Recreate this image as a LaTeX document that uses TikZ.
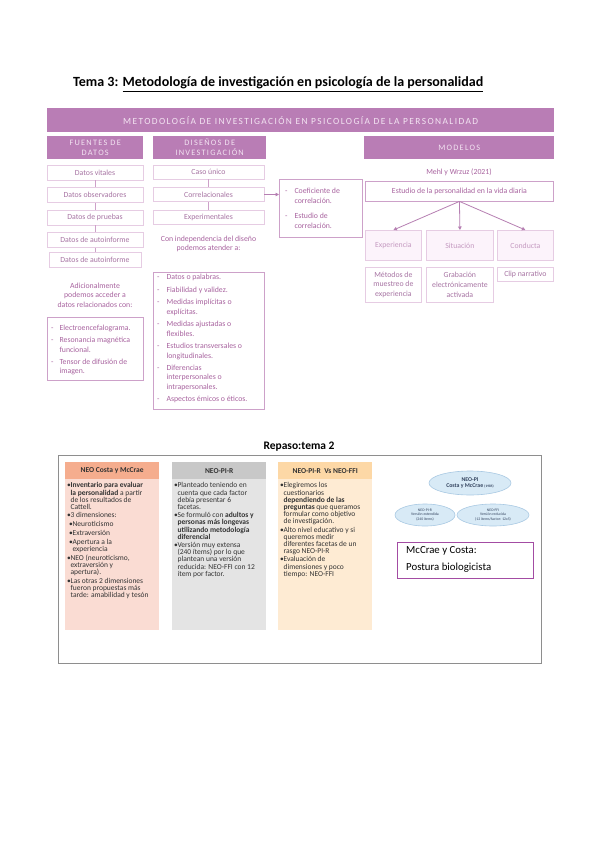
\documentclass[tikz,border=0pt]{standalone}
\usepackage{fontspec}
\usepackage{graphicx}
\setmainfont{Carlito}
\usetikzlibrary{arrows.meta,calc,shapes.geometric}
\definecolor{hdrc}{HTML}{B97DB5}
\definecolor{hdrtxt}{HTML}{F3E4F2}
\definecolor{lbord}{HTML}{E6CCE3}
\definecolor{mbord}{HTML}{CDA1C9}
\definecolor{dtxt}{HTML}{A774A3}
\definecolor{ptxt}{HTML}{A8639F}
\definecolor{ltxt}{HTML}{C59AC1}
\definecolor{pfill}{HTML}{FCF3FB}
\definecolor{pline}{HTML}{B67FB2}
\definecolor{framegray}{HTML}{8E8E8E}
\definecolor{salmonh}{HTML}{F5AD8E}
\definecolor{pinkb}{HTML}{FADCD3}
\definecolor{grayh}{HTML}{C8C8C8}
\definecolor{grayb}{HTML}{E4E4E4}
\definecolor{orah}{HTML}{FDD8A6}
\definecolor{orab}{HTML}{FEEBD3}
\definecolor{ellf}{HTML}{D8EAF6}
\definecolor{elld}{HTML}{A9C9E3}
\definecolor{elltxt}{HTML}{34445F}
\definecolor{magb}{HTML}{A34CA3}
\definecolor{coltxt}{HTML}{333333}
\newcommand\myhdrfont{\fontsize{8.3}{10}\selectfont\addfontfeature{LetterSpace=15}}
\newcommand\myboxfont{\fontsize{7.8}{9.6}\selectfont}
\newcommand\mybul{\makebox[3.4pt][l]{\textbullet}}
\newcommand\myind{\hspace*{3.4pt}}
\tikzset{
  hdr/.style={fill=hdrc, draw=none, text=hdrtxt, font=\myhdrfont, align=center, inner sep=0pt},
  sbox/.style={draw=lbord, line width=0.8pt, text=dtxt, font=\myboxfont, align=center, inner sep=0pt},
  lbox/.style={draw=mbord, line width=0.9pt, text=ptxt, font=\myboxfont, align=center, inner sep=0pt},
  fbox/.style={draw=lbord, fill=pfill, line width=0.8pt, text=ltxt, font=\myboxfont, align=center, inner sep=0pt},
  ptext/.style={text=ptxt, font=\myboxfont, align=center, inner sep=0pt},
  pconn/.style={draw=mbord, line width=0.8pt},
  parrow/.style={draw=pline, line width=0.8pt, -{Triangle[length=3.5pt,width=3.5pt]}},
  colhead/.style={draw=none, font=\bfseries\fontsize{7.5}{8}\selectfont, text=coltxt, inner sep=0pt},
  colbody/.style={draw=none, inner sep=0pt},
  coltext/.style={font=\fontsize{7.5}{7.1}\selectfont, text=coltxt, align=left, inner sep=0pt},
  ell/.style={ellipse, fill=ellf, draw=elld, line width=0.6pt, inner sep=0pt, align=center, text=elltxt},
}
\begin{document}
\begin{tikzpicture}[x=1pt,y=-1pt]
\useasboundingbox[fill=white] (0,0) rectangle (599,848);

% title
\node[anchor=base west, inner sep=0pt] (title) at (73,87) {\resizebox{410pt}{!}{\bfseries Tema 3: \underline{Metodología de investigación en psicología de la personalidad}}};

% header bars
\node[hdr, minimum width=507pt, minimum height=24pt, anchor=north west] (bar) at (47,108) {\resizebox{355pt}{!}{METODOLOGÍA DE INVESTIGACIÓN EN PSICOLOGÍA DE LA PERSONALIDAD}};
\node[hdr, minimum width=96pt, minimum height=23pt, anchor=north west] (fuentes) at (47,136) {FUENTES DE\\DATOS};
\node[hdr, minimum width=113pt, minimum height=23pt, anchor=north west] (disenos) at (153,136) {DISEÑOS DE\\INVESTIGACIÓN};
\node[hdr, minimum width=190pt, minimum height=23pt, anchor=north west] (modelos) at (364,136) {MODELOS};

% left column
\node[sbox, minimum width=96pt, minimum height=15pt] (dv) at (95,172.5) {Datos vitales};
\node[sbox, minimum width=96pt, minimum height=15pt] (dobs) at (95,195) {Datos observadores};
\node[sbox, minimum width=96pt, minimum height=15pt] (dpr) at (95,217.5) {Datos de pruebas};
\node[sbox, minimum width=96pt, minimum height=15pt] (dai) at (95,240) {Datos de autoinforme};
\node[sbox, minimum width=92pt, minimum height=15pt] (dai2) at (95,260) {Datos de autoinforme};
\draw[pconn] (dv) -- (dobs);
\draw[pconn] (dobs) -- (dpr);
\draw[pconn] (dpr) -- (dai);
\draw[pconn] (dai) -- (dai2);
\node[ptext] (adic) at (95,295) {Adicionalmente\\podemos acceder a\\datos relacionados con:};
\node[lbox, minimum width=96pt, minimum height=63pt, anchor=north west] (eeg) at (47,317) {};
\node[ptext, anchor=north west] (eegl) at (51,323.5) {\begin{tabular}{@{}l@{\hspace{6pt}}l@{}}-&Electroencefalograma.\\[2.5pt]-&Resonancia magnética\\&funcional.\\[2.5pt]-&Tensor de difusión de\\&imagen.\end{tabular}};

% middle column
\node[sbox, minimum width=111pt, minimum height=14pt] (caso) at (208.5,172) {Caso único};
\node[sbox, minimum width=111pt, minimum height=14pt] (corr) at (208.5,194.5) {Correlacionales};
\node[sbox, minimum width=111pt, minimum height=14pt] (expm) at (208.5,217) {Experimentales};
\draw[pconn] (caso) -- (corr);
\draw[pconn] (corr) -- (expm);
\node[ptext] (indep) at (208.5,244) {Con independencia del diseño\\podemos atender a:};
\node[lbox, minimum width=111pt, minimum height=137pt, anchor=north west] (lst) at (153,272) {};
\node[ptext, anchor=north west, font=\fontsize{7.8}{9.3}\selectfont] (lstt) at (157,273) {\begin{tabular}{@{}l@{\hspace{7pt}}l@{}}-&Datos o palabras.\\[3.3pt]-&Fiabilidad y validez.\\[3.3pt]-&Medidas implícitas o\\&explícitas.\\[3.3pt]-&Medidas ajustadas o\\&flexibles.\\[3.3pt]-&Estudios transversales o\\&longitudinales.\\[3.3pt]-&Diferencias\\&interpersonales o\\&intrapersonales.\\[3.3pt]-&Aspectos émicos o éticos.\end{tabular}};

% coeficiente box
\node[lbox, minimum width=83pt, minimum height=58pt, anchor=north west] (coef) at (279,179) {};
\node[ptext, anchor=north west, font=\fontsize{7.8}{10}\selectfont] (coeft) at (285,186) {\begin{tabular}{@{}l@{\hspace{7pt}}l@{}}-&Coeficiente de\\&correlación.\\[5pt]-&Estudio de\\&correlación.\end{tabular}};
\draw[parrow] (corr.east) -- (corr.east -| coef.west);

% modelos
\node[ptext] (mehl) at (459,172) {Mehl y Wrzuz (2021)};
\node[lbox, minimum width=188pt, minimum height=20pt, anchor=north west] (estudio) at (365,180.5) {Estudio de la personalidad en la vida diaria};
\node[fbox, minimum width=56pt, minimum height=30pt, anchor=north west] (exper) at (365,230) {Experiencia};
\node[fbox, minimum width=67pt, minimum height=30pt, anchor=north west] (situ) at (426,230) {Situación};
\node[fbox, minimum width=56pt, minimum height=30pt, anchor=north west] (cond) at (497,230) {Conducta};
\draw[parrow] (estudio.south) -- (exper.north);
\draw[parrow] (estudio.south) -- (situ.north);
\draw[parrow] (estudio.south) -- (cond.north);
\node[sbox, minimum width=56pt, minimum height=35pt, anchor=north west] (metodos) at (365,267) {Métodos de\\muestreo de\\experiencia};
\node[sbox, minimum width=67pt, minimum height=35pt, anchor=north west] (grab) at (426,267) {Grabación\\electrónicamente\\activada};
\node[sbox, minimum width=56pt, minimum height=14pt, anchor=north west] (clip) at (497,267) {Clip narrativo};

% bottom section
\node[font=\bfseries\fontsize{11.5}{13}\selectfont, inner sep=0pt] (repaso) at (299,447) {Repaso:tema 2};
\node[draw=framegray, line width=1.2pt, minimum width=483pt, minimum height=208pt, anchor=north west, inner sep=0pt] (frame) at (58,455) {};

\node[colhead, fill=salmonh, minimum width=94pt, minimum height=17pt, anchor=north west] (h1) at (65,462) {NEO Costa y McCrae};
\node[colbody, fill=pinkb, minimum width=94pt, minimum height=151pt, anchor=north west] (b1) at (65,479) {};
\node[coltext, anchor=north west] (t1) at (67,482.5) {%
\mybul\textbf{Inventario para evaluar}\\
\myind\textbf{la personalidad} a partir\\
\myind de los resultados de\\
\myind Cattell.\\[1.5pt]
\mybul 3 dimensiones:\\[1.5pt]
\hspace*{2pt}\mybul Neuroticismo\\[2pt]
\hspace*{2pt}\mybul Extraversión\\[2pt]
\hspace*{2pt}\mybul Apertura a la\\
\hspace*{2pt}\myind experiencia\\[1.5pt]
\mybul NEO (neuroticismo,\\
\myind extraversión y\\
\myind apertura).\\[2pt]
\mybul Las otras 2 dimensiones\\
\myind fueron propuestas más\\
\myind tarde: amabilidad y tesón};

\node[colhead, fill=grayh, minimum width=94pt, minimum height=17pt, anchor=north west] (h2) at (172,462) {NEO-PI-R};
\node[colbody, fill=grayb, minimum width=94pt, minimum height=151pt, anchor=north west] (b2) at (172,479) {};
\node[coltext, anchor=north west] (t2) at (174,482.5) {%
\mybul Planteado teniendo en\\
\myind cuenta que cada factor\\
\myind debía presentar 6\\
\myind facetas.\\[1.5pt]
\mybul Se formuló con \textbf{adultos y}\\
\myind\textbf{personas más longevas}\\
\myind\textbf{utilizando metodología}\\
\myind\textbf{diferencial}\\[1.5pt]
\mybul Versión muy extensa\\
\myind (240 ítems) por lo que\\
\myind plantean una versión\\
\myind reducida: NEO-FFI con 12\\
\myind ítem por factor.};

\node[colhead, fill=orah, minimum width=94pt, minimum height=17pt, anchor=north west] (h3) at (278,462) {NEO-PI-R \ Vs NEO-FFI};
\node[colbody, fill=orab, minimum width=94pt, minimum height=151pt, anchor=north west] (b3) at (278,479) {};
\node[coltext, anchor=north west] (t3) at (280,482.5) {%
\mybul Elegiremos los\\
\myind cuestionarios\\
\myind\textbf{dependiendo de las}\\
\myind\textbf{preguntas} que queramos\\
\myind formular como objetivo\\
\myind de investigación.\\[1.5pt]
\mybul Alto nivel educativo y si\\
\myind queremos medir\\
\myind diferentes facetas de un\\
\myind rasgo NEO-PI-R\\[1.5pt]
\mybul Evaluación de\\
\myind dimensiones y poco\\
\myind tiempo: NEO-FFI};

% ellipses
\node[ell, minimum width=82pt, minimum height=24pt, font=\bfseries\fontsize{5.8}{6.8}\selectfont] (neopi) at (470,483) {NEO-PI\\Costa y McCrae {\fontsize{3.5}{4}\selectfont(1985)}};
\node[ell, minimum width=60pt, minimum height=22pt, font=\fontsize{3.8}{4.6}\selectfont] (neopir) at (425,515) {NEO-PI-R\\Versión extendida\\(240 ítems)};
\node[ell, minimum width=72pt, minimum height=22pt, font=\fontsize{3.8}{4.6}\selectfont] (neoffi) at (493,515) {NEO-FFI\\Versión reducida\\(12 ítems/factor: 12x5)};

\node[draw=magb, line width=1.2pt, minimum width=136pt, minimum height=36pt, anchor=north west, inner sep=0pt] (mcbox) at (397,542) {};
\node[anchor=north west, align=left, font=\fontsize{10.8}{17}\selectfont, inner sep=0pt] (mct) at (406,546) {McCrae y Costa:\\Postura biologicista};
\end{tikzpicture}
\end{document}
